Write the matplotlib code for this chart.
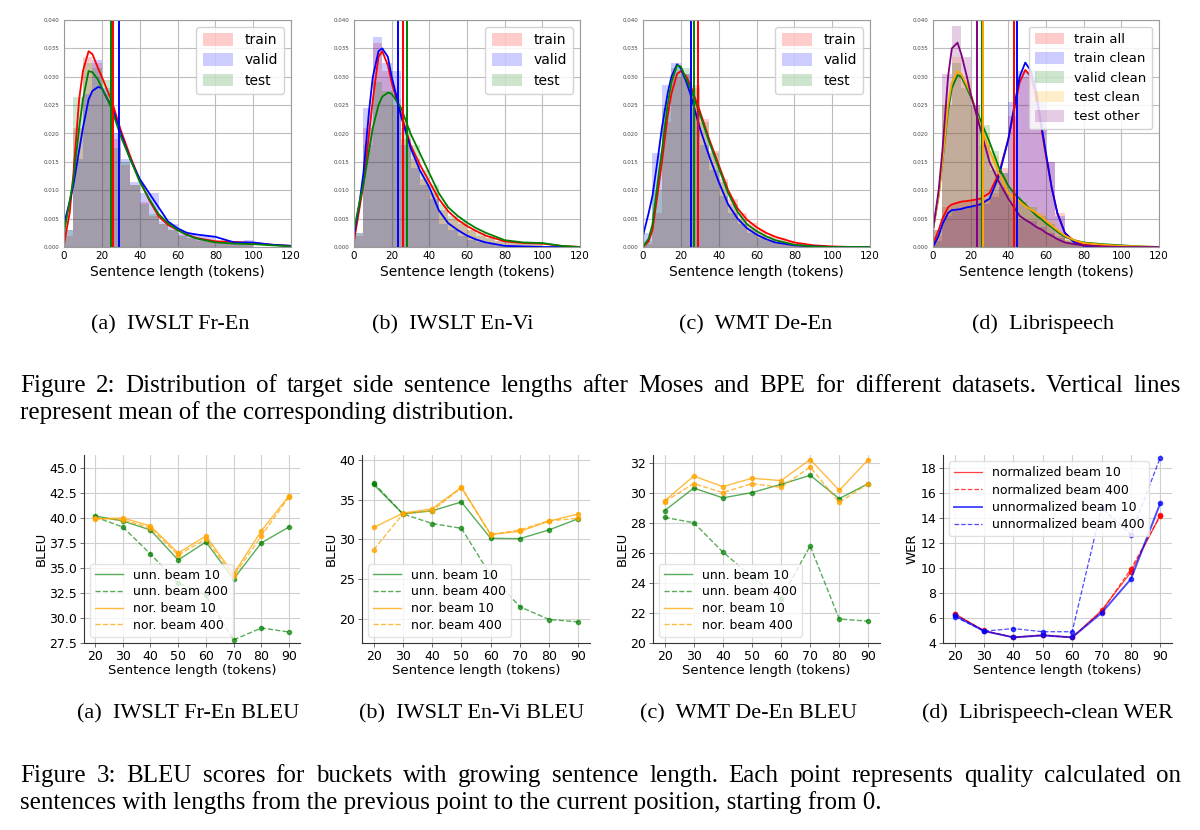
import numpy as np
import matplotlib
matplotlib.use('Agg')
import matplotlib.pyplot as plt

W, H = 1200, 830

# ---------- Figure 2: sentence length distributions ----------
BIN_EDGES = list(range(0, 105, 5))          # histogram bins, width 5
KDE_X = [0, 3, 5, 8, 10, 13, 15, 18, 20, 23, 25, 30, 35, 40, 45, 50, 55, 60, 65, 70, 80, 90, 100, 110, 120]
KDE_X_LS = [0, 3, 5, 8, 10, 13, 15, 18, 20, 25, 30, 35, 40, 43, 46, 49, 52, 55, 58, 60, 63, 66, 70, 75, 80, 90, 100, 110, 120]

# (a) IWSLT Fr-En
FREN_HIST_TRAIN = [0.002, 0.021, 0.0335, 0.0325, 0.027, 0.019, 0.0145, 0.011, 0.008, 0.0055, 0.004, 0.003, 0.0022, 0.0016, 0.0012, 0.001, 0.0009, 0.0008, 0.0007, 0.0006]
FREN_HIST_VALID = [0.003, 0.0155, 0.027, 0.033, 0.028, 0.020, 0.0155, 0.0115, 0.0095, 0.0095, 0.0045, 0.004, 0.0025, 0.0025, 0.002, 0.002, 0.001, 0.0008, 0.0008, 0.0012]
FREN_HIST_TEST = [0.003, 0.0265, 0.0325, 0.0315, 0.0295, 0.0175, 0.015, 0.011, 0.0075, 0.0058, 0.004, 0.003, 0.002, 0.0015, 0.001, 0.0008, 0.0006, 0.0006, 0.0005, 0.0004]
FREN_KDE_TRAIN = [0.0005, 0.006, 0.013, 0.026, 0.031, 0.0345, 0.034, 0.0315, 0.030, 0.0275, 0.026, 0.0206, 0.016, 0.0118, 0.0083, 0.0054, 0.0039, 0.003, 0.0022, 0.0016, 0.001, 0.0009, 0.0007, 0.0004, 0.0002]
FREN_KDE_VALID = [0.004, 0.008, 0.011, 0.017, 0.021, 0.026, 0.0275, 0.0282, 0.028, 0.026, 0.025, 0.020, 0.0155, 0.012, 0.0095, 0.007, 0.0045, 0.0033, 0.0025, 0.0022, 0.0018, 0.0008, 0.0008, 0.0004, 0.0002]
FREN_KDE_TEST = [0.0025, 0.008, 0.012, 0.021, 0.026, 0.031, 0.0308, 0.0295, 0.028, 0.026, 0.0245, 0.0195, 0.0155, 0.0115, 0.0085, 0.0058, 0.0042, 0.003, 0.0021, 0.0015, 0.0008, 0.0006, 0.0005, 0.0003, 0.0001]
FREN_MEANS = [26.0, 29.1, 25.1]

# (b) IWSLT En-Vi
ENVI_HIST_TRAIN = [0.002, 0.021, 0.036, 0.031, 0.025, 0.019, 0.0155, 0.012, 0.0095, 0.0065, 0.005, 0.004, 0.003, 0.002, 0.0015, 0.001, 0.0008, 0.0007, 0.0006, 0.0005]
ENVI_HIST_VALID = [0.0025, 0.0245, 0.037, 0.0325, 0.031, 0.018, 0.014, 0.011, 0.0085, 0.004, 0.003, 0.002, 0.0012, 0.0008, 0.0005, 0.0002, 0.0001, 0, 0, 0]
ENVI_HIST_TEST = [0.0025, 0.018, 0.029, 0.0275, 0.026, 0.021, 0.018, 0.0135, 0.011, 0.0075, 0.0055, 0.0045, 0.003, 0.0025, 0.0015, 0.001, 0.0008, 0.0008, 0.0007, 0.0008]
ENVI_KDE_TRAIN = [0.001, 0.007, 0.011, 0.020, 0.026, 0.0335, 0.0345, 0.032, 0.029, 0.0255, 0.0235, 0.018, 0.0145, 0.0115, 0.0085, 0.0063, 0.0048, 0.0037, 0.0028, 0.002, 0.001, 0.0007, 0.0006, 0.0002, 0.0]
ENVI_KDE_VALID = [0.002, 0.008, 0.013, 0.024, 0.030, 0.0345, 0.035, 0.0335, 0.030, 0.026, 0.023, 0.0175, 0.0135, 0.0105, 0.0065, 0.0042, 0.003, 0.002, 0.0013, 0.0008, 0.0002, 0.0001, 0.0, 0.0, 0.0]
ENVI_KDE_TEST = [0.003, 0.008, 0.011, 0.017, 0.021, 0.025, 0.0265, 0.0272, 0.027, 0.0255, 0.0245, 0.020, 0.0165, 0.013, 0.0095, 0.007, 0.0055, 0.0043, 0.0033, 0.0025, 0.0012, 0.0008, 0.0007, 0.0002, 0.0]
ENVI_MEANS = [26.2, 23.4, 28.1]

# (c) WMT De-En
DEEN_HIST_TRAIN = [0.0005, 0.006, 0.022, 0.030, 0.0305, 0.0285, 0.0225, 0.017, 0.012, 0.0085, 0.006, 0.0042, 0.003, 0.002, 0.0015, 0.001, 0.0006, 0.0004, 0.0002, 0.0001]
DEEN_HIST_VALID = [0.0025, 0.0165, 0.0285, 0.0325, 0.0305, 0.0245, 0.018, 0.0135, 0.009, 0.006, 0.004, 0.0025, 0.0015, 0.001, 0.0005, 0.0003, 0.0001, 0, 0, 0]
DEEN_HIST_TEST = [0.001, 0.010, 0.0245, 0.0315, 0.0315, 0.028, 0.022, 0.0165, 0.0115, 0.0075, 0.005, 0.0032, 0.002, 0.0013, 0.0008, 0.0004, 0.0002, 0.0001, 0, 0]
DEEN_KDE_TRAIN = [0.0, 0.001, 0.003, 0.010, 0.015, 0.023, 0.027, 0.0305, 0.031, 0.030, 0.0285, 0.024, 0.019, 0.0145, 0.010, 0.0068, 0.0048, 0.0035, 0.0025, 0.0018, 0.0008, 0.0003, 0.0001, 0.0, 0.0]
DEEN_KDE_VALID = [0.002, 0.006, 0.009, 0.016, 0.021, 0.027, 0.030, 0.0322, 0.0315, 0.029, 0.027, 0.021, 0.016, 0.0115, 0.0075, 0.005, 0.0033, 0.0022, 0.0014, 0.0008, 0.0003, 0.0001, 0.0, 0.0, 0.0]
DEEN_KDE_TEST = [0.0, 0.0015, 0.004, 0.012, 0.017, 0.025, 0.029, 0.032, 0.0318, 0.0295, 0.028, 0.0235, 0.0185, 0.014, 0.0095, 0.0062, 0.004, 0.0028, 0.0019, 0.0012, 0.0004, 0.0001, 0.0, 0.0, 0.0]
DEEN_MEANS = [29.1, 25.2, 27.0]

# (d) Librispeech
LS_HIST_TRAIN_ALL = [0.002, 0.007, 0.0078, 0.008, 0.0083, 0.0085, 0.0095, 0.014, 0.023, 0.030, 0.030, 0.024, 0.015, 0.006, 0.0015, 0.0005, 0.0003, 0.0002, 0.0001, 0]
LS_HIST_TRAIN_CLEAN = [0.001, 0.0055, 0.0065, 0.007, 0.0072, 0.0076, 0.0088, 0.013, 0.0255, 0.031, 0.031, 0.0255, 0.015, 0.0055, 0.001, 0.0003, 0.0001, 0, 0, 0]
LS_HIST_VALID_CLEAN = [0.003, 0.025, 0.0325, 0.028, 0.025, 0.0215, 0.017, 0.013, 0.010, 0.008, 0.007, 0.0055, 0.004, 0.002, 0.0012, 0.0008, 0.0005, 0.0003, 0.0002, 0.0001]
LS_HIST_TEST_CLEAN = [0.003, 0.025, 0.0335, 0.029, 0.0245, 0.020, 0.016, 0.0125, 0.009, 0.008, 0.007, 0.006, 0.0045, 0.0025, 0.0012, 0.0007, 0.0004, 0.0002, 0.0001, 0]
LS_HIST_TEST_OTHER = [0.003, 0.0305, 0.039, 0.0335, 0.025, 0.018, 0.0135, 0.0105, 0.0075, 0.005, 0.0045, 0.0035, 0.0025, 0.0015, 0.0007, 0.0003, 0.0001, 0, 0, 0]
LS_KDE_TRAIN_ALL = [0.0005, 0.003, 0.005, 0.007, 0.0075, 0.0078, 0.008, 0.0081, 0.0082, 0.0085, 0.0095, 0.013, 0.019, 0.024, 0.029, 0.0312, 0.030, 0.026, 0.020, 0.016, 0.0105, 0.006, 0.0025, 0.001, 0.0004, 0.0002, 0.0, 0.0, 0.0]
LS_KDE_TRAIN_CLEAN = [0.0, 0.002, 0.004, 0.006, 0.0065, 0.0066, 0.0067, 0.007, 0.0071, 0.0075, 0.0085, 0.0125, 0.019, 0.0245, 0.030, 0.0325, 0.031, 0.027, 0.0205, 0.0165, 0.0105, 0.006, 0.0025, 0.0008, 0.0002, 0.0, 0.0, 0.0, 0.0]
LS_KDE_VALID_CLEAN = [0.003, 0.009, 0.015, 0.024, 0.028, 0.0303, 0.030, 0.028, 0.0265, 0.0225, 0.0185, 0.014, 0.0108, 0.0095, 0.0085, 0.0075, 0.0065, 0.0055, 0.0048, 0.0042, 0.0035, 0.0027, 0.0018, 0.0012, 0.0008, 0.0005, 0.0003, 0.0001, 0.0]
LS_KDE_TEST_CLEAN = [0.003, 0.009, 0.015, 0.025, 0.029, 0.031, 0.0305, 0.0285, 0.027, 0.0215, 0.017, 0.013, 0.0095, 0.0087, 0.008, 0.0072, 0.0066, 0.006, 0.0052, 0.0046, 0.0038, 0.003, 0.002, 0.0012, 0.0007, 0.0004, 0.0002, 0.0001, 0.0]
LS_KDE_TEST_OTHER = [0.003, 0.010, 0.017, 0.030, 0.035, 0.036, 0.034, 0.030, 0.027, 0.021, 0.015, 0.0115, 0.0085, 0.007, 0.0055, 0.0048, 0.0042, 0.0035, 0.003, 0.0025, 0.002, 0.0014, 0.0008, 0.0005, 0.0003, 0.0001, 0.0, 0.0, 0.0]
LS_MEANS = [43.2, 44.8, 25.9, 26.4, 23.2]

# ---------- Figure 3: quality per length bucket ----------
BUCKETS = [20, 30, 40, 50, 60, 70, 80, 90]
FREN_UNN10 = [40.2, 39.7, 38.8, 35.8, 37.6, 33.9, 37.5, 39.1]
FREN_UNN400 = [40.1, 39.1, 36.4, 33.5, 32.3, 27.8, 29.0, 28.6]
FREN_NOR10 = [39.9, 40.0, 39.2, 36.5, 38.2, 34.4, 38.7, 42.2]
FREN_NOR400 = [40.0, 39.8, 39.0, 36.3, 37.9, 34.2, 38.2, 42.1]
ENVI_UNN10 = [36.9, 33.2, 33.6, 34.7, 30.15, 30.1, 31.2, 32.6]
ENVI_UNN400 = [37.1, 33.2, 32.0, 31.4, 25.5, 21.55, 19.95, 19.65]
ENVI_NOR10 = [31.5, 33.3, 33.85, 36.55, 30.65, 31.0, 32.3, 33.2]
ENVI_NOR400 = [28.7, 33.2, 33.6, 36.5, 30.6, 31.2, 32.35, 32.65]
DEEN_UNN10 = [28.8, 30.3, 29.65, 30.0, 30.55, 31.15, 29.6, 30.6]
DEEN_UNN400 = [28.35, 28.0, 26.05, 24.4, 22.95, 26.45, 21.6, 21.45]
DEEN_NOR10 = [29.45, 31.1, 30.4, 30.95, 30.8, 32.2, 30.15, 32.2]
DEEN_NOR400 = [29.4, 30.6, 30.0, 30.6, 30.35, 31.7, 29.35, 30.6]
WER_NORM10 = [6.35, 4.95, 4.45, 4.65, 4.45, 6.6, 9.65, 14.2]
WER_NORM400 = [6.3, 5.0, 4.45, 4.6, 4.45, 6.5, 9.9, 14.15]
WER_UNN10 = [6.2, 4.95, 4.45, 4.6, 4.45, 6.4, 9.1, 15.15]
WER_UNN400 = [6.1, 4.95, 5.15, 4.9, 4.9, 14.8, 12.65, 18.8]

SERIF = 'Liberation Serif'

fig = plt.figure(figsize=(W / 100, H / 100), dpi=100)


def px_axes(l, t, r, b):
    return fig.add_axes([l / W, 1 - b / H, (r - l) / W, (b - t) / H])


# ---- top row: histograms + kde + mean lines ----
top_panels = [
    ((64, 20, 291, 247), KDE_X, 10, [
        ('train', 'red', FREN_HIST_TRAIN, FREN_KDE_TRAIN, FREN_MEANS[0]),
        ('valid', 'blue', FREN_HIST_VALID, FREN_KDE_VALID, FREN_MEANS[1]),
        ('test', 'green', FREN_HIST_TEST, FREN_KDE_TEST, FREN_MEANS[2])]),
    ((354, 20, 580, 247), KDE_X, 10, [
        ('train', 'red', ENVI_HIST_TRAIN, ENVI_KDE_TRAIN, ENVI_MEANS[0]),
        ('valid', 'blue', ENVI_HIST_VALID, ENVI_KDE_VALID, ENVI_MEANS[1]),
        ('test', 'green', ENVI_HIST_TEST, ENVI_KDE_TEST, ENVI_MEANS[2])]),
    ((643, 20, 870, 247), KDE_X, 10, [
        ('train', 'red', DEEN_HIST_TRAIN, DEEN_KDE_TRAIN, DEEN_MEANS[0]),
        ('valid', 'blue', DEEN_HIST_VALID, DEEN_KDE_VALID, DEEN_MEANS[1]),
        ('test', 'green', DEEN_HIST_TEST, DEEN_KDE_TEST, DEEN_MEANS[2])]),
    ((933, 20, 1159, 247), KDE_X_LS, 9.5, [
        ('train all', 'red', LS_HIST_TRAIN_ALL, LS_KDE_TRAIN_ALL, LS_MEANS[0]),
        ('train clean', 'blue', LS_HIST_TRAIN_CLEAN, LS_KDE_TRAIN_CLEAN, LS_MEANS[1]),
        ('valid clean', 'green', LS_HIST_VALID_CLEAN, LS_KDE_VALID_CLEAN, LS_MEANS[2]),
        ('test clean', 'orange', LS_HIST_TEST_CLEAN, LS_KDE_TEST_CLEAN, LS_MEANS[3]),
        ('test other', 'purple', LS_HIST_TEST_OTHER, LS_KDE_TEST_OTHER, LS_MEANS[4])]),
]

for box, kx, legsize, series in top_panels:
    ax = px_axes(*box)
    for label, color, hist, kde, mean in series:
        ax.bar(BIN_EDGES[:-1], hist, width=5, align='edge', color=color,
               alpha=0.2, linewidth=0, label=label)
    for label, color, hist, kde, mean in series:
        ax.plot(kx, kde, color=color, lw=1.3)
    for label, color, hist, kde, mean in series:
        ax.axvline(mean, color=color, lw=1.4)
    ax.set_xlim(0, 120)
    ax.set_ylim(0, 0.04)
    ax.set_xticks(range(0, 121, 20))
    ax.set_yticks(np.arange(0, 0.0401, 0.005))
    ax.set_yticklabels(['%.3f' % v for v in np.arange(0, 0.0401, 0.005)])
    ax.tick_params(axis='x', labelsize=7.5, length=0, pad=3)
    ax.tick_params(axis='y', labelsize=4, length=0, pad=3, labelcolor='#444444')
    ax.grid(True, color='#bdbdbd', lw=0.8)
    ax.set_axisbelow(True)
    for s in ax.spines.values():
        s.set_color('#9a9a9a')
    ax.set_xlabel('Sentence length (tokens)', fontsize=10, labelpad=3)
    ax.legend(loc='upper right', fontsize=legsize, handlelength=2.2,
              handleheight=1.0, labelspacing=0.45, borderpad=0.45,
              framealpha=0.85, edgecolor='#cccccc')

# ---- bottom row: BLEU / WER per bucket ----
bleu_panels = [
    ((84, 455, 300, 643), (27.5, 46.3), np.arange(27.5, 45.1, 2.5), '%.1f',
     FREN_UNN10, FREN_UNN400, FREN_NOR10, FREN_NOR400),
    ((362, 455, 590, 643), (17, 40.6), [20, 25, 30, 35, 40], '%d',
     ENVI_UNN10, ENVI_UNN400, ENVI_NOR10, ENVI_NOR400),
    ((653, 455, 880, 643), (20, 32.5), [20, 22, 24, 26, 28, 30, 32], '%d',
     DEEN_UNN10, DEEN_UNN400, DEEN_NOR10, DEEN_NOR400),
]


def style_bottom(ax, ylim, yticks, fmt):
    ax.set_xlim(16, 94)
    ax.set_ylim(*ylim)
    ax.set_xticks(BUCKETS)
    ax.set_yticks(yticks)
    ax.set_yticklabels([fmt % v for v in yticks])
    ax.tick_params(labelsize=9, length=3, width=0.6, pad=2, color='#555555')
    ax.grid(True, color='#d0d0d0', lw=0.8)
    ax.set_axisbelow(True)
    ax.spines['top'].set_visible(False)
    ax.spines['right'].set_visible(False)
    for s in ('left', 'bottom'):
        ax.spines[s].set_color('#333333')
        ax.spines[s].set_linewidth(0.8)
    ax.set_xlabel('Sentence length (tokens)', fontsize=9.5, labelpad=1)


for box, ylim, yticks, fmt, u10, u400, n10, n400 in bleu_panels:
    ax = px_axes(*box)
    ax.plot(BUCKETS, u10, color='green', alpha=0.65, lw=1, marker='o', ms=3, label='unn. beam 10')
    ax.plot(BUCKETS, u400, color='green', alpha=0.65, lw=1, ls='--', marker='o', ms=3, label='unn. beam 400')
    ax.plot(BUCKETS, n10, color='orange', alpha=0.75, lw=1, marker='o', ms=3, label='nor. beam 10')
    ax.plot(BUCKETS, n400, color='orange', alpha=0.75, lw=1, ls='--', marker='o', ms=3, label='nor. beam 400')
    style_bottom(ax, ylim, yticks, fmt)
    ax.set_ylabel('BLEU', fontsize=9.5, labelpad=1)
    leg = ax.legend(loc='lower left', fontsize=9, handlelength=2.2,
                    labelspacing=0.3, borderpad=0.4, framealpha=0.8,
                    edgecolor='#dddddd')
    for h in leg.get_lines():
        h.set_marker('')

ax = px_axes(943, 455, 1172, 643)
ax.plot(BUCKETS, WER_NORM10, color='red', alpha=0.75, lw=0.9, marker='o', ms=3, label='normalized beam 10')
ax.plot(BUCKETS, WER_NORM400, color='red', alpha=0.75, lw=0.9, ls='--', marker='o', ms=3, label='normalized beam 400')
ax.plot(BUCKETS, WER_UNN10, color='blue', alpha=0.7, lw=1.4, marker='o', ms=3, label='unnormalized beam 10')
ax.plot(BUCKETS, WER_UNN400, color='blue', alpha=0.7, lw=0.9, ls='--', marker='o', ms=3, label='unnormalized beam 400')
style_bottom(ax, (4, 19), [4, 6, 8, 10, 12, 14, 16, 18], '%d')
ax.set_ylabel('WER', fontsize=9.5, labelpad=1)
leg = ax.legend(loc='upper left', fontsize=9, handlelength=2.2,
                labelspacing=0.35, borderpad=0.4, framealpha=0.85,
                edgecolor='#dddddd')
for h in leg.get_lines():
    h.set_marker('')

# ---- sub captions ----
for cx, text in [(170, '(a)  IWSLT Fr-En'), (453, '(b)  IWSLT En-Vi'),
                 (756, '(c)  WMT De-En'), (1043, '(d)  Librispeech')]:
    fig.text(cx / W, 1 - 329 / H, text, ha='center', va='baseline',
             family=SERIF, fontsize=16)
for cx, text in [(188, '(a)  IWSLT Fr-En BLEU'), (472, '(b)  IWSLT En-Vi BLEU'),
                 (749, '(c)  WMT De-En BLEU'), (1047, '(d)  Librispeech-clean WER')]:
    fig.text(cx / W, 1 - 718 / H, text, ha='center', va='baseline',
             family=SERIF, fontsize=16)

# ---- figure captions (first line of each is justified) ----
renderer = fig.canvas.get_renderer()
CAP = 18


def justified(text, ybase, x0=20, x1=1181, size=CAP):
    words = text.split()
    objs = [fig.text(0, 1 - ybase / H, w, family=SERIF, fontsize=size, va='baseline') for w in words]
    widths = [o.get_window_extent(renderer).width for o in objs]
    gap = (x1 - x0 - sum(widths)) / (len(words) - 1)
    x = x0
    for o, w in zip(objs, widths):
        o.set_x(x / W)
        x += w + gap


justified('Figure 2: Distribution of target side sentence lengths after Moses and BPE '
          'for different datasets.  Vertical lines', 392)
fig.text(20 / W, 1 - 419 / H, 'represent mean of the corresponding distribution.',
         family=SERIF, fontsize=CAP, va='baseline')
justified('Figure 3: BLEU scores for buckets with growing sentence length.  Each point '
          'represents quality calculated on', 782)
fig.text(20 / W, 1 - 809 / H, 'sentences with lengths from the previous point to the '
         'current position, starting from 0.', family=SERIF, fontsize=CAP, va='baseline')

fig.savefig('out.png', dpi=100)
